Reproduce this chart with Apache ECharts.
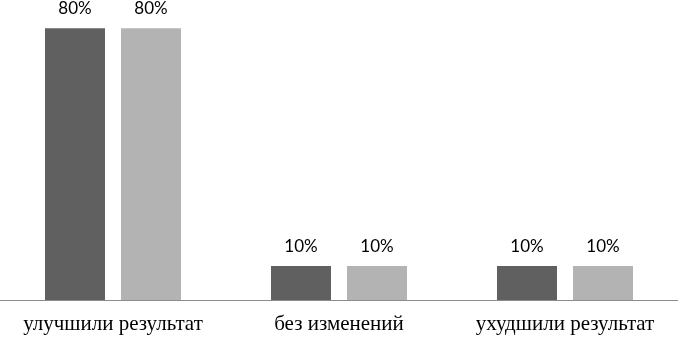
<!DOCTYPE html>
<html><head><meta charset="utf-8">
<script src="https://cdn.jsdelivr.net/npm/echarts@6/dist/echarts.min.js"></script>
<style>html,body{margin:0;padding:0;background:#fff}#c{width:678px;height:337px}</style>
</head><body><div id="c"></div>
<script>
const categories = ['улучшили результат', 'без изменений', 'ухудшили результат'];
const series1 = [80, 10, 10];
const series2 = [80, 10, 10];

const chart = echarts.init(document.getElementById('c'));
const lbl = {show: true, position: 'top', distance: 11, formatter: '{c}%', fontFamily: 'Lato', fontSize: 17, color: '#000'};
chart.setOption({
  animation: false,
  grid: {left: 0, right: 0, top: 1, bottom: 37},
  xAxis: {
    type: 'category', data: categories,
    axisLine: {lineStyle: {color: '#8c8c8c', width: 1}},
    axisTick: {show: false},
    axisLabel: {interval: 0, hideOverlap: false, fontFamily: 'Liberation Serif', fontSize: 21, color: '#000', margin: 14}
  },
  yAxis: {type: 'value', min: 0, max: 88, show: false, splitLine: {show: false}},
  series: [
    {type: 'bar', data: series1, barWidth: 60, barGap: '26.7%', itemStyle: {color: '#606060'}, label: lbl},
    {type: 'bar', data: series2, barWidth: 60, itemStyle: {color: '#b3b3b3'}, label: lbl}
  ]
});
</script></body></html>
